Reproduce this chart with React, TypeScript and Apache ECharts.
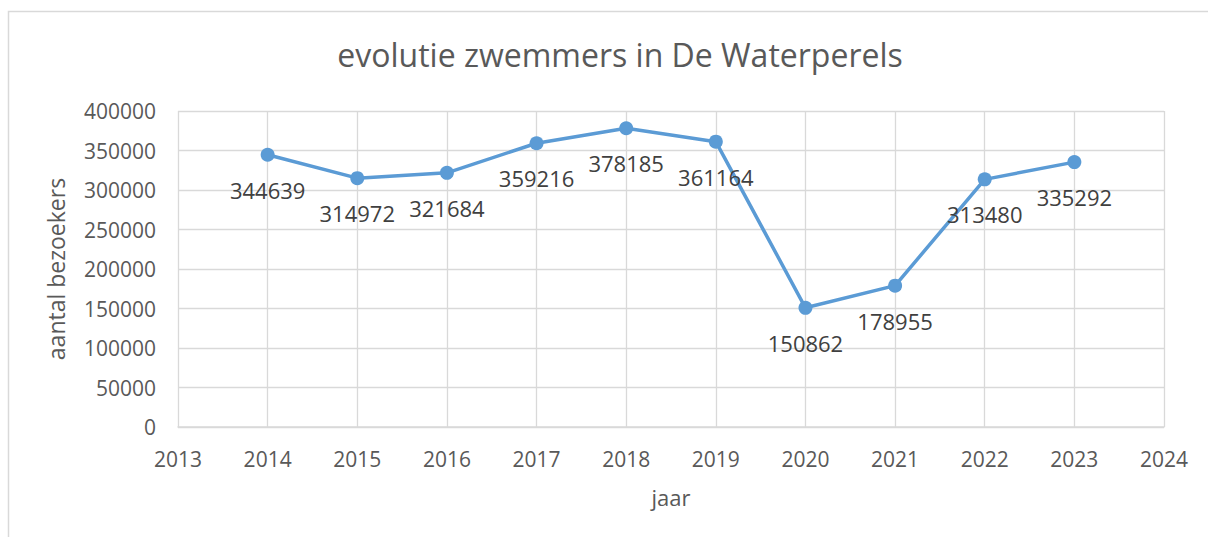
import React, { useEffect, useRef } from "react";
import * as echarts from "echarts";

const titleText = "evolutie zwemmers in De Waterperels";
const xAxisName = "jaar";
const yAxisName = "aantal bezoekers";
const years = [2014, 2015, 2016, 2017, 2018, 2019, 2020, 2021, 2022, 2023];
const visitors = [344639, 314972, 321684, 359216, 378185, 361164, 150862, 178955, 313480, 335292];
const xMin = 2013;
const xMax = 2024;
const yMin = 0;
const yMax = 400000;
const yStep = 50000;

const FONT = "'Open Sans', 'Noto Sans', sans-serif";

export default function App() {
  const ref = useRef<HTMLDivElement>(null);
  useEffect(() => {
    if (!ref.current) return;
    const chart = echarts.init(ref.current, null, { renderer: "svg" });
    chart.setOption({
      animation: false,
      backgroundColor: "#ffffff",
      textStyle: { fontFamily: FONT },
      title: {
        text: titleText,
        left: 615,
        top: 33,
        textAlign: "center",
        textStyle: { fontFamily: FONT, fontSize: 32, fontWeight: "normal", color: "#595959" },
      },
      graphic: [
        {
          type: "rect",
          shape: { x: 8.5, y: 11.5, width: 1230, height: 560 },
          style: { fill: "none", stroke: "#d9d9d9", lineWidth: 1.5 },
          silent: true,
          z: -1,
        },
      ],
      grid: { left: 178, top: 111, right: 44, bottom: 110, containLabel: false },
      xAxis: {
        type: "value",
        min: xMin,
        max: xMax,
        interval: 1,
        name: xAxisName,
        nameLocation: "middle",
        nameGap: 59,
        nameTextStyle: { fontFamily: FONT, fontSize: 22, color: "#595959" },
        axisLine: { show: true, lineStyle: { color: "#d9d9d9", width: 1.5 } },
        axisTick: { show: false },
        splitLine: { show: true, lineStyle: { color: "#d9d9d9", width: 1.3 } },
        axisLabel: {
          margin: 21,
          fontFamily: FONT,
          fontSize: 21,
          color: "#595959",
          formatter: (v: number) => String(v),
        },
      },
      yAxis: {
        type: "value",
        min: yMin,
        max: yMax,
        interval: yStep,
        name: yAxisName,
        nameLocation: "middle",
        nameRotate: 90,
        nameGap: 111,
        nameTextStyle: { fontFamily: FONT, fontSize: 23, color: "#595959" },
        axisLine: { show: false },
        axisTick: { show: false },
        splitLine: { show: true, lineStyle: { color: "#d9d9d9", width: 1.3 } },
        axisLabel: {
          margin: 22,
          fontFamily: FONT,
          fontSize: 21,
          color: "#595959",
          formatter: (v: number) => String(v),
        },
      },
      series: [
        {
          type: "line",
          data: years.map((y, i) => [y, visitors[i]]),
          symbol: "circle",
          symbolSize: 14,
          lineStyle: { color: "#5b9bd5", width: 3.5 },
          itemStyle: { color: "#5b9bd5" },
          label: {
            show: true,
            position: "bottom",
            distance: 17,
            fontFamily: FONT,
            fontSize: 22,
            color: "#404040",
            formatter: (p: any) => String(p.value[1]),
          },
        },
      ],
    });
    return () => chart.dispose();
  }, []);
  return (
    <div
      ref={ref}
      style={{ position: "fixed", left: 0, top: 0, width: 1208, height: 537 }}
    />
  );
}
